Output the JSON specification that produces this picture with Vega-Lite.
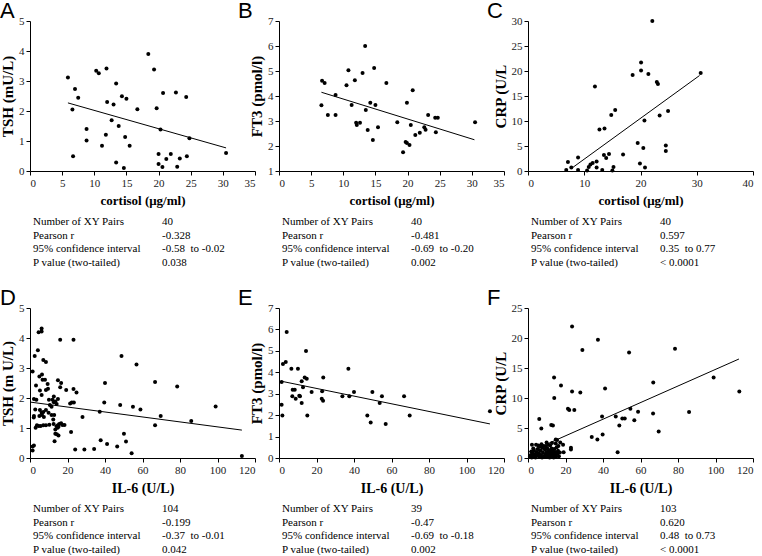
{
"$schema":"https://vega.github.io/schema/vega-lite/v6.json",
"padding":0,
"bounds":"flush",
"columns":3,
"spacing":{"row":48,"column":24},
"config":{
 "view":{"stroke":null},
 "axis":{"labelFont":"Liberation Serif","labelFontSize":11,"labelColor":"#222","titleFont":"Liberation Serif","titleFontWeight":"bold","titleColor":"#000","domainColor":"#000","tickColor":"#000","tickSize":4,"grid":false,"labelPadding":2},
 "axisX":{"titlePadding":6,"titleFontSize":13},
 "axisY":{"titlePadding":3,"titleFontSize":15},
 "title":{"font":"Liberation Sans","fontSize":22,"fontWeight":"normal","anchor":"start","frame":"group","dx":-41,"dy":12,"offset":0,"color":"#000"}
},
"datasets":{
"d":[
{"panel":"A","kind":"pt","x":5.9,"y":3.12},{"panel":"A","kind":"pt","x":7.0,"y":2.73},{"panel":"A","kind":"pt","x":7.5,"y":2.44},{"panel":"A","kind":"pt","x":6.6,"y":2.05},{"panel":"A","kind":"pt","x":6.7,"y":0.49},{"panel":"A","kind":"pt","x":8.8,"y":1.4},{"panel":"A","kind":"pt","x":8.8,"y":1.02},{"panel":"A","kind":"pt","x":10.3,"y":3.34},{"panel":"A","kind":"pt","x":10.7,"y":3.26},{"panel":"A","kind":"pt","x":11.9,"y":3.42},{"panel":"A","kind":"pt","x":12.0,"y":2.3},{"panel":"A","kind":"pt","x":11.2,"y":0.84},{"panel":"A","kind":"pt","x":11.8,"y":1.21},{"panel":"A","kind":"pt","x":12.7,"y":1.69},{"panel":"A","kind":"pt","x":13.0,"y":2.22},{"panel":"A","kind":"pt","x":13.4,"y":2.92},{"panel":"A","kind":"pt","x":13.4,"y":0.28},{"panel":"A","kind":"pt","x":13.8,"y":1.5},{"panel":"A","kind":"pt","x":14.3,"y":2.49},{"panel":"A","kind":"pt","x":15.0,"y":2.41},{"panel":"A","kind":"pt","x":14.8,"y":1.13},{"panel":"A","kind":"pt","x":14.6,"y":0.1},{"panel":"A","kind":"pt","x":15.5,"y":0.84},{"panel":"A","kind":"pt","x":16.7,"y":2.06},{"panel":"A","kind":"pt","x":18.4,"y":3.9},{"panel":"A","kind":"pt","x":19.3,"y":3.38},{"panel":"A","kind":"pt","x":19.7,"y":2.09},{"panel":"A","kind":"pt","x":20.3,"y":1.38},{"panel":"A","kind":"pt","x":20.7,"y":2.6},{"panel":"A","kind":"pt","x":20.0,"y":0.57},{"panel":"A","kind":"pt","x":20.0,"y":0.23},{"panel":"A","kind":"pt","x":20.6,"y":0.13},{"panel":"A","kind":"pt","x":21.2,"y":0.4},{"panel":"A","kind":"pt","x":21.9,"y":0.57},{"panel":"A","kind":"pt","x":22.7,"y":2.62},{"panel":"A","kind":"pt","x":22.9,"y":0.14},{"panel":"A","kind":"pt","x":23.3,"y":0.42},{"panel":"A","kind":"pt","x":24.3,"y":2.47},{"panel":"A","kind":"pt","x":24.4,"y":0.49},{"panel":"A","kind":"pt","x":24.8,"y":1.09},{"panel":"A","kind":"pt","x":30.5,"y":0.6},
{"panel":"A","kind":"fit","x":5.9,"y":2.27},{"panel":"A","kind":"fit","x":30.5,"y":0.77},
{"panel":"B","kind":"pt","x":6.6,"y":3.63},{"panel":"B","kind":"pt","x":6.7,"y":4.61},{"panel":"B","kind":"pt","x":7.1,"y":4.52},{"panel":"B","kind":"pt","x":7.6,"y":3.24},{"panel":"B","kind":"pt","x":8.8,"y":4.04},{"panel":"B","kind":"pt","x":8.8,"y":3.24},{"panel":"B","kind":"pt","x":10.5,"y":4.43},{"panel":"B","kind":"pt","x":10.8,"y":5.03},{"panel":"B","kind":"pt","x":11.3,"y":3.64},{"panel":"B","kind":"pt","x":11.8,"y":4.63},{"panel":"B","kind":"pt","x":12.0,"y":2.93},{"panel":"B","kind":"pt","x":12.1,"y":2.84},{"panel":"B","kind":"pt","x":12.6,"y":2.93},{"panel":"B","kind":"pt","x":13.0,"y":4.92},{"panel":"B","kind":"pt","x":13.4,"y":6.0},{"panel":"B","kind":"pt","x":13.5,"y":3.44},{"panel":"B","kind":"pt","x":13.8,"y":2.64},{"panel":"B","kind":"pt","x":14.2,"y":3.73},{"panel":"B","kind":"pt","x":14.6,"y":2.24},{"panel":"B","kind":"pt","x":14.8,"y":5.12},{"panel":"B","kind":"pt","x":15.0,"y":3.64},{"panel":"B","kind":"pt","x":15.4,"y":2.75},{"panel":"B","kind":"pt","x":16.7,"y":4.52},{"panel":"B","kind":"pt","x":18.4,"y":2.95},{"panel":"B","kind":"pt","x":19.3,"y":1.75},{"panel":"B","kind":"pt","x":19.7,"y":2.16},{"panel":"B","kind":"pt","x":19.9,"y":2.12},{"panel":"B","kind":"pt","x":19.9,"y":3.73},{"panel":"B","kind":"pt","x":20.3,"y":2.04},{"panel":"B","kind":"pt","x":20.8,"y":4.23},{"panel":"B","kind":"pt","x":20.5,"y":2.84},{"panel":"B","kind":"pt","x":21.2,"y":2.44},{"panel":"B","kind":"pt","x":21.9,"y":2.53},{"panel":"B","kind":"pt","x":22.6,"y":2.75},{"panel":"B","kind":"pt","x":22.8,"y":2.65},{"panel":"B","kind":"pt","x":23.2,"y":3.24},{"panel":"B","kind":"pt","x":24.3,"y":3.13},{"panel":"B","kind":"pt","x":24.7,"y":3.13},{"panel":"B","kind":"pt","x":24.4,"y":2.55},{"panel":"B","kind":"pt","x":30.5,"y":2.95},
{"panel":"B","kind":"fit","x":6.6,"y":4.15},{"panel":"B","kind":"fit","x":30.4,"y":2.25},
{"panel":"C","kind":"pt","x":6.8,"y":0.2},{"panel":"C","kind":"pt","x":7.1,"y":1.8},{"panel":"C","kind":"pt","x":7.7,"y":0.7},{"panel":"C","kind":"pt","x":8.9,"y":2.7},{"panel":"C","kind":"pt","x":8.9,"y":0.2},{"panel":"C","kind":"pt","x":10.5,"y":0.1},{"panel":"C","kind":"pt","x":10.8,"y":0.8},{"panel":"C","kind":"pt","x":11.1,"y":1.3},{"panel":"C","kind":"pt","x":11.5,"y":1.6},{"panel":"C","kind":"pt","x":11.9,"y":16.9},{"panel":"C","kind":"pt","x":12.2,"y":1.9},{"panel":"C","kind":"pt","x":12.2,"y":0.7},{"panel":"C","kind":"pt","x":12.7,"y":8.3},{"panel":"C","kind":"pt","x":13.2,"y":0.2},{"panel":"C","kind":"pt","x":13.6,"y":8.5},{"panel":"C","kind":"pt","x":13.5,"y":3.2},{"panel":"C","kind":"pt","x":13.9,"y":2.6},{"panel":"C","kind":"pt","x":14.4,"y":3.4},{"panel":"C","kind":"pt","x":14.8,"y":11.2},{"panel":"C","kind":"pt","x":15.0,"y":0.1},{"panel":"C","kind":"pt","x":15.2,"y":0.8},{"panel":"C","kind":"pt","x":15.5,"y":12.2},{"panel":"C","kind":"pt","x":16.9,"y":3.3},{"panel":"C","kind":"pt","x":18.6,"y":19.2},{"panel":"C","kind":"pt","x":19.5,"y":5.6},{"panel":"C","kind":"pt","x":19.9,"y":1.5},{"panel":"C","kind":"pt","x":20.1,"y":21.7},{"panel":"C","kind":"pt","x":20.1,"y":20.1},{"panel":"C","kind":"pt","x":20.5,"y":4.6},{"panel":"C","kind":"pt","x":20.7,"y":10.1},{"panel":"C","kind":"pt","x":20.8,"y":0.7},{"panel":"C","kind":"pt","x":21.4,"y":19.4},{"panel":"C","kind":"pt","x":22.1,"y":30.0},{"panel":"C","kind":"pt","x":22.9,"y":17.8},{"panel":"C","kind":"pt","x":23.1,"y":17.4},{"panel":"C","kind":"pt","x":23.4,"y":11.1},{"panel":"C","kind":"pt","x":24.5,"y":5.1},{"panel":"C","kind":"pt","x":24.5,"y":4.0},{"panel":"C","kind":"pt","x":24.9,"y":12.0},{"panel":"C","kind":"pt","x":30.7,"y":19.6},
{"panel":"C","kind":"fit","x":7.7,"y":0.5},{"panel":"C","kind":"fit","x":30.5,"y":19.1},
{"panel":"D","kind":"pt","x":1.4,"y":0.38},{"panel":"D","kind":"pt","x":1.4,"y":0.25},{"panel":"D","kind":"pt","x":4.6,"y":4.19},{"panel":"D","kind":"pt","x":6.2,"y":4.22},{"panel":"D","kind":"pt","x":6.2,"y":4.32},{"panel":"D","kind":"pt","x":4.2,"y":3.59},{"panel":"D","kind":"pt","x":2.5,"y":3.4},{"panel":"D","kind":"pt","x":1.4,"y":2.88},{"panel":"D","kind":"pt","x":7.1,"y":3.27},{"panel":"D","kind":"pt","x":8.5,"y":3.2},{"panel":"D","kind":"pt","x":5.0,"y":2.72},{"panel":"D","kind":"pt","x":6.4,"y":2.78},{"panel":"D","kind":"pt","x":6.7,"y":2.61},{"panel":"D","kind":"pt","x":8.0,"y":2.61},{"panel":"D","kind":"pt","x":9.4,"y":2.47},{"panel":"D","kind":"pt","x":3.2,"y":2.42},{"panel":"D","kind":"pt","x":5.3,"y":2.25},{"panel":"D","kind":"pt","x":8.5,"y":2.27},{"panel":"D","kind":"pt","x":9.6,"y":2.31},{"panel":"D","kind":"pt","x":6.2,"y":2.1},{"panel":"D","kind":"pt","x":2.1,"y":1.97},{"panel":"D","kind":"pt","x":3.4,"y":1.94},{"panel":"D","kind":"pt","x":10.1,"y":1.94},{"panel":"D","kind":"pt","x":12.0,"y":1.94},{"panel":"D","kind":"pt","x":12.7,"y":2.05},{"panel":"D","kind":"pt","x":10.6,"y":1.77},{"panel":"D","kind":"pt","x":11.5,"y":1.71},{"panel":"D","kind":"pt","x":12.7,"y":1.86},{"panel":"D","kind":"pt","x":13.5,"y":1.88},{"panel":"D","kind":"pt","x":14.2,"y":1.8},{"panel":"D","kind":"pt","x":2.8,"y":1.62},{"panel":"D","kind":"pt","x":5.3,"y":1.6},{"panel":"D","kind":"pt","x":6.2,"y":1.51},{"panel":"D","kind":"pt","x":7.1,"y":1.53},{"panel":"D","kind":"pt","x":8.5,"y":1.6},{"panel":"D","kind":"pt","x":9.9,"y":1.51},{"panel":"D","kind":"pt","x":2.1,"y":1.4},{"panel":"D","kind":"pt","x":5.0,"y":1.4},{"panel":"D","kind":"pt","x":6.4,"y":1.43},{"panel":"D","kind":"pt","x":7.4,"y":1.37},{"panel":"D","kind":"pt","x":11.5,"y":1.43},{"panel":"D","kind":"pt","x":12.4,"y":1.28},{"panel":"D","kind":"pt","x":12.9,"y":1.43},{"panel":"D","kind":"pt","x":3.0,"y":1.01},{"panel":"D","kind":"pt","x":3.7,"y":1.09},{"panel":"D","kind":"pt","x":4.6,"y":1.07},{"panel":"D","kind":"pt","x":5.7,"y":1.07},{"panel":"D","kind":"pt","x":7.1,"y":1.09},{"panel":"D","kind":"pt","x":8.5,"y":1.09},{"panel":"D","kind":"pt","x":10.3,"y":1.11},{"panel":"D","kind":"pt","x":12.6,"y":1.13},{"panel":"D","kind":"pt","x":13.5,"y":0.95},{"panel":"D","kind":"pt","x":14.2,"y":1.06},{"panel":"D","kind":"pt","x":14.7,"y":1.01},{"panel":"D","kind":"pt","x":15.2,"y":1.04},{"panel":"D","kind":"pt","x":14.9,"y":1.09},{"panel":"D","kind":"pt","x":15.6,"y":1.13},{"panel":"D","kind":"pt","x":13.5,"y":0.81},{"panel":"D","kind":"pt","x":14.3,"y":0.79},{"panel":"D","kind":"pt","x":15.2,"y":0.75},{"panel":"D","kind":"pt","x":13.1,"y":0.56},{"panel":"D","kind":"pt","x":2.1,"y":0.42},{"panel":"D","kind":"pt","x":14.9,"y":1.97},{"panel":"D","kind":"pt","x":14.9,"y":2.59},{"panel":"D","kind":"pt","x":16.6,"y":2.5},{"panel":"D","kind":"pt","x":16.1,"y":2.36},{"panel":"D","kind":"pt","x":16.1,"y":3.94},{"panel":"D","kind":"pt","x":18.4,"y":1.1},{"panel":"D","kind":"pt","x":19.3,"y":2.27},{"panel":"D","kind":"pt","x":16.6,"y":1.16},{"panel":"D","kind":"pt","x":17.3,"y":1.1},{"panel":"D","kind":"pt","x":21.4,"y":1.82},{"panel":"D","kind":"pt","x":22.3,"y":1.85},{"panel":"D","kind":"pt","x":23.4,"y":1.85},{"panel":"D","kind":"pt","x":23.2,"y":3.94},{"panel":"D","kind":"pt","x":23.2,"y":2.3},{"panel":"D","kind":"pt","x":24.8,"y":2.18},{"panel":"D","kind":"pt","x":21.9,"y":0.87},{"panel":"D","kind":"pt","x":24.1,"y":0.28},{"panel":"D","kind":"pt","x":28.0,"y":1.37},{"panel":"D","kind":"pt","x":29.0,"y":0.28},{"panel":"D","kind":"pt","x":34.2,"y":0.3},{"panel":"D","kind":"pt","x":37.2,"y":1.54},{"panel":"D","kind":"pt","x":37.7,"y":0.59},{"panel":"D","kind":"pt","x":39.6,"y":1.85},{"panel":"D","kind":"pt","x":40.0,"y":2.5},{"panel":"D","kind":"pt","x":41.1,"y":0.47},{"panel":"D","kind":"pt","x":46.5,"y":0.38},{"panel":"D","kind":"pt","x":48.1,"y":1.77},{"panel":"D","kind":"pt","x":48.8,"y":3.4},{"panel":"D","kind":"pt","x":50.1,"y":0.81},{"panel":"D","kind":"pt","x":51.2,"y":0.55},{"panel":"D","kind":"pt","x":54.2,"y":0.16},{"panel":"D","kind":"pt","x":54.9,"y":1.71},{"panel":"D","kind":"pt","x":56.8,"y":3.12},{"panel":"D","kind":"pt","x":58.9,"y":1.62},{"panel":"D","kind":"pt","x":66.7,"y":1.09},{"panel":"D","kind":"pt","x":66.7,"y":2.53},{"panel":"D","kind":"pt","x":69.7,"y":1.4},{"panel":"D","kind":"pt","x":78.5,"y":2.38},{"panel":"D","kind":"pt","x":86.0,"y":1.23},{"panel":"D","kind":"pt","x":99.0,"y":1.72},{"panel":"D","kind":"pt","x":113.0,"y":0.07},{"panel":"D","kind":"pt","x":2.0,"y":1.35},
{"panel":"D","kind":"fit","x":0.5,"y":1.86},{"panel":"D","kind":"fit","x":113,"y":0.93},
{"panel":"E","kind":"pt","x":4.1,"y":5.88},{"panel":"E","kind":"pt","x":2.1,"y":4.39},{"panel":"E","kind":"pt","x":3.6,"y":4.48},{"panel":"E","kind":"pt","x":1.4,"y":3.55},{"panel":"E","kind":"pt","x":1.4,"y":2.49},{"panel":"E","kind":"pt","x":1.8,"y":1.98},{"panel":"E","kind":"pt","x":6.6,"y":4.17},{"panel":"E","kind":"pt","x":10.1,"y":4.17},{"panel":"E","kind":"pt","x":14.4,"y":4.99},{"panel":"E","kind":"pt","x":13.7,"y":3.76},{"panel":"E","kind":"pt","x":14.8,"y":3.7},{"panel":"E","kind":"pt","x":12.1,"y":3.58},{"panel":"E","kind":"pt","x":23.6,"y":3.76},{"panel":"E","kind":"pt","x":7.3,"y":3.19},{"panel":"E","kind":"pt","x":8.4,"y":3.19},{"panel":"E","kind":"pt","x":12.8,"y":3.3},{"panel":"E","kind":"pt","x":17.4,"y":3.08},{"panel":"E","kind":"pt","x":23.0,"y":3.11},{"panel":"E","kind":"pt","x":7.1,"y":2.88},{"panel":"E","kind":"pt","x":8.9,"y":2.77},{"panel":"E","kind":"pt","x":11.2,"y":2.88},{"panel":"E","kind":"pt","x":12.1,"y":2.57},{"panel":"E","kind":"pt","x":22.8,"y":2.77},{"panel":"E","kind":"pt","x":23.5,"y":2.67},{"panel":"E","kind":"pt","x":15.1,"y":1.98},{"panel":"E","kind":"pt","x":33.8,"y":2.88},{"panel":"E","kind":"pt","x":37.0,"y":4.17},{"panel":"E","kind":"pt","x":37.5,"y":2.88},{"panel":"E","kind":"pt","x":40.0,"y":3.08},{"panel":"E","kind":"pt","x":47.1,"y":1.98},{"panel":"E","kind":"pt","x":48.9,"y":1.66},{"panel":"E","kind":"pt","x":49.8,"y":3.08},{"panel":"E","kind":"pt","x":53.7,"y":2.57},{"panel":"E","kind":"pt","x":54.9,"y":2.88},{"panel":"E","kind":"pt","x":56.9,"y":1.59},{"panel":"E","kind":"pt","x":66.7,"y":2.88},{"panel":"E","kind":"pt","x":69.7,"y":1.98},{"panel":"E","kind":"pt","x":112.5,"y":2.18},{"panel":"E","kind":"pt","x":10.8,"y":2.9},
{"panel":"E","kind":"fit","x":1.4,"y":3.58},{"panel":"E","kind":"fit","x":112.5,"y":1.59},
{"panel":"F","kind":"pt","x":23.5,"y":21.9},{"panel":"F","kind":"pt","x":37.3,"y":19.7},{"panel":"F","kind":"pt","x":29.0,"y":18.0},{"panel":"F","kind":"pt","x":53.9,"y":17.6},{"panel":"F","kind":"pt","x":78.4,"y":18.2},{"panel":"F","kind":"pt","x":13.9,"y":13.4},{"panel":"F","kind":"pt","x":17.6,"y":12.1},{"panel":"F","kind":"pt","x":23.5,"y":11.1},{"panel":"F","kind":"pt","x":27.9,"y":10.9},{"panel":"F","kind":"pt","x":14.0,"y":10.0},{"panel":"F","kind":"pt","x":41.1,"y":11.6},{"panel":"F","kind":"pt","x":66.8,"y":12.6},{"panel":"F","kind":"pt","x":99.0,"y":13.4},{"panel":"F","kind":"pt","x":112.7,"y":11.1},{"panel":"F","kind":"pt","x":85.9,"y":7.66},{"panel":"F","kind":"pt","x":21.3,"y":8.2},{"panel":"F","kind":"pt","x":22.0,"y":8.0},{"panel":"F","kind":"pt","x":24.7,"y":8.0},{"panel":"F","kind":"pt","x":46.8,"y":6.9},{"panel":"F","kind":"pt","x":39.5,"y":6.9},{"panel":"F","kind":"pt","x":54.6,"y":8.2},{"panel":"F","kind":"pt","x":50.3,"y":6.6},{"panel":"F","kind":"pt","x":51.6,"y":6.6},{"panel":"F","kind":"pt","x":58.7,"y":7.7},{"panel":"F","kind":"pt","x":56.7,"y":6.3},{"panel":"F","kind":"pt","x":66.7,"y":7.4},{"panel":"F","kind":"pt","x":48.7,"y":5.4},{"panel":"F","kind":"pt","x":69.7,"y":4.4},{"panel":"F","kind":"pt","x":39.8,"y":3.9},{"panel":"F","kind":"pt","x":34.0,"y":3.5},{"panel":"F","kind":"pt","x":37.0,"y":3.1},{"panel":"F","kind":"pt","x":47.8,"y":0.95},{"panel":"F","kind":"pt","x":6.0,"y":6.5},{"panel":"F","kind":"pt","x":7.1,"y":4.9},{"panel":"F","kind":"pt","x":12.4,"y":5.5},{"panel":"F","kind":"pt","x":13.3,"y":5.4},{"panel":"F","kind":"pt","x":14.8,"y":3.1},{"panel":"F","kind":"pt","x":15.5,"y":3.0},{"panel":"F","kind":"pt","x":17.2,"y":2.6},{"panel":"F","kind":"pt","x":18.7,"y":2.2},{"panel":"F","kind":"pt","x":22.9,"y":1.7},{"panel":"F","kind":"pt","x":22.9,"y":1.4},{"panel":"F","kind":"pt","x":19.0,"y":0.95},{"panel":"F","kind":"pt","x":2.1,"y":2.2},
{"panel":"F","kind":"pt","x":1.0,"y":0.2},{"panel":"F","kind":"pt","x":1.5,"y":0.5},{"panel":"F","kind":"pt","x":2.0,"y":0.1},{"panel":"F","kind":"pt","x":2.5,"y":0.8},{"panel":"F","kind":"pt","x":3.0,"y":0.3},{"panel":"F","kind":"pt","x":3.2,"y":1.2},{"panel":"F","kind":"pt","x":3.8,"y":0.6},{"panel":"F","kind":"pt","x":4.0,"y":0.1},{"panel":"F","kind":"pt","x":4.5,"y":1.0},{"panel":"F","kind":"pt","x":5.0,"y":0.4},{"panel":"F","kind":"pt","x":5.2,"y":1.5},{"panel":"F","kind":"pt","x":5.8,"y":0.8},{"panel":"F","kind":"pt","x":6.0,"y":0.2},{"panel":"F","kind":"pt","x":6.5,"y":1.9},{"panel":"F","kind":"pt","x":6.8,"y":1.2},{"panel":"F","kind":"pt","x":7.0,"y":0.5},{"panel":"F","kind":"pt","x":7.5,"y":0.1},{"panel":"F","kind":"pt","x":7.8,"y":1.7},{"panel":"F","kind":"pt","x":8.0,"y":0.9},{"panel":"F","kind":"pt","x":8.3,"y":2.0},{"panel":"F","kind":"pt","x":8.6,"y":0.3},{"panel":"F","kind":"pt","x":9.0,"y":1.4},{"panel":"F","kind":"pt","x":9.2,"y":0.6},{"panel":"F","kind":"pt","x":9.5,"y":1.9},{"panel":"F","kind":"pt","x":9.8,"y":0.2},{"panel":"F","kind":"pt","x":10.0,"y":1.0},{"panel":"F","kind":"pt","x":10.3,"y":1.6},{"panel":"F","kind":"pt","x":10.6,"y":0.4},{"panel":"F","kind":"pt","x":11.0,"y":0.8},{"panel":"F","kind":"pt","x":11.2,"y":1.3},{"panel":"F","kind":"pt","x":11.5,"y":0.1},{"panel":"F","kind":"pt","x":11.8,"y":2.1},{"panel":"F","kind":"pt","x":12.0,"y":0.6},{"panel":"F","kind":"pt","x":12.3,"y":1.0},{"panel":"F","kind":"pt","x":12.6,"y":1.6},{"panel":"F","kind":"pt","x":12.9,"y":0.3},{"panel":"F","kind":"pt","x":13.2,"y":1.2},{"panel":"F","kind":"pt","x":13.4,"y":0.8},{"panel":"F","kind":"pt","x":13.7,"y":0.1},{"panel":"F","kind":"pt","x":14.0,"y":1.5},{"panel":"F","kind":"pt","x":14.3,"y":0.5},{"panel":"F","kind":"pt","x":14.6,"y":1.0},{"panel":"F","kind":"pt","x":15.0,"y":0.2},{"panel":"F","kind":"pt","x":15.3,"y":1.8},{"panel":"F","kind":"pt","x":15.7,"y":0.7},{"panel":"F","kind":"pt","x":16.0,"y":1.2},{"panel":"F","kind":"pt","x":16.5,"y":0.3},{"panel":"F","kind":"pt","x":17.0,"y":0.9},{"panel":"F","kind":"pt","x":4.3,"y":2.2},{"panel":"F","kind":"pt","x":2.8,"y":1.6},{"panel":"F","kind":"pt","x":5.5,"y":2.1},{"panel":"F","kind":"pt","x":7.2,"y":2.3},{"panel":"F","kind":"pt","x":9.9,"y":2.6},{"panel":"F","kind":"pt","x":10.8,"y":2.2},{"panel":"F","kind":"pt","x":12.8,"y":2.5},{"panel":"F","kind":"pt","x":14.8,"y":2.4},{"panel":"F","kind":"pt","x":16.2,"y":2.0},{"panel":"F","kind":"pt","x":1.8,"y":1.1},{"panel":"F","kind":"pt","x":6.3,"y":1.3},
{"panel":"F","kind":"fit","x":0.5,"y":1.0},{"panel":"F","kind":"fit","x":112.5,"y":16.5}
],
"stats":[
{"panel":"A","row":1,"label":"Number of XY Pairs","value":"40"},{"panel":"A","row":2,"label":"Pearson r","value":"-0.328"},{"panel":"A","row":3,"label":"95% confidence interval","value":"-0.58\u00a0 to -0.02"},{"panel":"A","row":4,"label":"P value (two-tailed)","value":"0.038"},
{"panel":"B","row":1,"label":"Number of XY Pairs","value":"40"},{"panel":"B","row":2,"label":"Pearson r","value":"-0.481"},{"panel":"B","row":3,"label":"95% confidence interval","value":"-0.69\u00a0 to -0.20"},{"panel":"B","row":4,"label":"P value (two-tailed)","value":"0.002"},
{"panel":"C","row":1,"label":"Number of XY Pairs","value":"40"},{"panel":"C","row":2,"label":"Pearson r","value":"0.597"},{"panel":"C","row":3,"label":"95% confidence interval","value":"0.35\u00a0 to 0.77"},{"panel":"C","row":4,"label":"P value (two-tailed)","value":"< 0.0001"},
{"panel":"D","row":1,"label":"Number of XY Pairs","value":"104"},{"panel":"D","row":2,"label":"Pearson r","value":"-0.199"},{"panel":"D","row":3,"label":"95% confidence interval","value":"-0.37\u00a0 to -0.01"},{"panel":"D","row":4,"label":"P value (two-tailed)","value":"0.042"},
{"panel":"E","row":1,"label":"Number of XY Pairs","value":"39"},{"panel":"E","row":2,"label":"Pearson r","value":"-0.47"},{"panel":"E","row":3,"label":"95% confidence interval","value":"-0.69\u00a0 to -0.18"},{"panel":"E","row":4,"label":"P value (two-tailed)","value":"0.002"},
{"panel":"F","row":1,"label":"Number of XY Pairs","value":"103"},{"panel":"F","row":2,"label":"Pearson r","value":"0.620"},{"panel":"F","row":3,"label":"95% confidence interval","value":"0.48\u00a0 to 0.73"},{"panel":"F","row":4,"label":"P value (two-tailed)","value":"< 0.0001"}
]
},
"concat":[
 {"title":{"text":"A","dx":-30},"width":225,"height":150,"data":{"name":"d"},"transform":[{"filter":"datum.panel==='A'"}],
  "encoding":{"x":{"field":"x","type":"quantitative","scale":{"domain":[0,35],"nice":false},"axis":{"values":[0,5,10,15,20,25,30,35],"title":"cortisol (μg/ml)"}},
              "y":{"field":"y","type":"quantitative","scale":{"domain":[0,5],"nice":false},"axis":{"values":[0,1,2,3,4,5],"title":"TSH (mU/L)"}}},
  "layer":[{"transform":[{"filter":"datum.kind==='pt'"}],"mark":{"type":"circle","size":16,"color":"#000","opacity":1}},
           {"transform":[{"filter":"datum.kind==='fit'"}],"mark":{"type":"line","color":"#000","strokeWidth":1}}]},
 {"title":"B","width":225,"height":150,"data":{"name":"d"},"transform":[{"filter":"datum.panel==='B'"}],
  "encoding":{"x":{"field":"x","type":"quantitative","scale":{"domain":[0,35],"nice":false},"axis":{"values":[0,5,10,15,20,25,30,35],"title":"cortisol (μg/ml)"}},
              "y":{"field":"y","type":"quantitative","scale":{"domain":[1,7],"nice":false,"zero":false},"axis":{"values":[1,2,3,4,5,6,7],"title":"FT3 (pmol/l)"}}},
  "layer":[{"transform":[{"filter":"datum.kind==='pt'"}],"mark":{"type":"circle","size":16,"color":"#000","opacity":1}},
           {"transform":[{"filter":"datum.kind==='fit'"}],"mark":{"type":"line","color":"#000","strokeWidth":1}}]},
 {"title":"C","width":225,"height":150,"data":{"name":"d"},"transform":[{"filter":"datum.panel==='C'"}],
  "encoding":{"x":{"field":"x","type":"quantitative","scale":{"domain":[0,40],"nice":false},"axis":{"values":[0,10,20,30,40],"title":"cortisol (μg/ml)"}},
              "y":{"field":"y","type":"quantitative","scale":{"domain":[0,30],"nice":false},"axis":{"values":[0,5,10,15,20,25,30],"title":"CRP (U/L"}}},
  "layer":[{"transform":[{"filter":"datum.kind==='pt'"}],"mark":{"type":"circle","size":16,"color":"#000","opacity":1}},
           {"transform":[{"filter":"datum.kind==='fit'"}],"mark":{"type":"line","color":"#000","strokeWidth":1}}]},
 {"width":225,"height":41,"data":{"name":"stats"},"transform":[{"filter":"datum.panel==='A'"},{"fold":["label","value"],"as":["col","txt"]}],"mark":{"type":"text","align":"left","baseline":"middle","font":"Liberation Serif","fontSize":11,"color":"#000","dy":3},
  "encoding":{"x":{"field":"col","type":"nominal","scale":{"type":"point","domain":["label","value"],"range":[3,132],"padding":0},"axis":null},"y":{"field":"row","type":"ordinal","scale":{"type":"point","padding":0},"axis":null},"text":{"field":"txt"}}},
 {"width":225,"height":41,"data":{"name":"stats"},"transform":[{"filter":"datum.panel==='B'"},{"fold":["label","value"],"as":["col","txt"]}],"mark":{"type":"text","align":"left","baseline":"middle","font":"Liberation Serif","fontSize":11,"color":"#000","dy":3},
  "encoding":{"x":{"field":"col","type":"nominal","scale":{"type":"point","domain":["label","value"],"range":[3,132],"padding":0},"axis":null},"y":{"field":"row","type":"ordinal","scale":{"type":"point","padding":0},"axis":null},"text":{"field":"txt"}}},
 {"width":225,"height":41,"data":{"name":"stats"},"transform":[{"filter":"datum.panel==='C'"},{"fold":["label","value"],"as":["col","txt"]}],"mark":{"type":"text","align":"left","baseline":"middle","font":"Liberation Serif","fontSize":11,"color":"#000","dy":3},
  "encoding":{"x":{"field":"col","type":"nominal","scale":{"type":"point","domain":["label","value"],"range":[3,132],"padding":0},"axis":null},"y":{"field":"row","type":"ordinal","scale":{"type":"point","padding":0},"axis":null},"text":{"field":"txt"}}},
 {"title":{"text":"D","dx":-30},"width":225,"height":150,"data":{"name":"d"},"transform":[{"filter":"datum.panel==='D'"}],
  "encoding":{"x":{"field":"x","type":"quantitative","scale":{"domain":[0,120],"nice":false},"axis":{"values":[0,20,40,60,80,100,120],"title":"IL-6 (U/L)","titleFontSize":14}},
              "y":{"field":"y","type":"quantitative","scale":{"domain":[0,5],"nice":false},"axis":{"values":[0,1,2,3,4,5],"title":"TSH (m U/L)"}}},
  "layer":[{"transform":[{"filter":"datum.kind==='pt'"}],"mark":{"type":"circle","size":16,"color":"#000","opacity":1}},
           {"transform":[{"filter":"datum.kind==='fit'"}],"mark":{"type":"line","color":"#000","strokeWidth":1}}]},
 {"title":"E","width":225,"height":150,"data":{"name":"d"},"transform":[{"filter":"datum.panel==='E'"}],
  "encoding":{"x":{"field":"x","type":"quantitative","scale":{"domain":[0,120],"nice":false},"axis":{"values":[0,20,40,60,80,100,120],"title":"IL-6 (U/L)","titleFontSize":14}},
              "y":{"field":"y","type":"quantitative","scale":{"domain":[0,7],"nice":false},"axis":{"values":[0,1,2,3,4,5,6,7],"title":"FT3 (pmol/l)"}}},
  "layer":[{"transform":[{"filter":"datum.kind==='pt'"}],"mark":{"type":"circle","size":16,"color":"#000","opacity":1}},
           {"transform":[{"filter":"datum.kind==='fit'"}],"mark":{"type":"line","color":"#000","strokeWidth":1}}]},
 {"title":"F","width":225,"height":150,"data":{"name":"d"},"transform":[{"filter":"datum.panel==='F'"}],
  "encoding":{"x":{"field":"x","type":"quantitative","scale":{"domain":[0,120],"nice":false},"axis":{"values":[0,20,40,60,80,100,120],"title":"IL-6 (U/L)","titleFontSize":14}},
              "y":{"field":"y","type":"quantitative","scale":{"domain":[0,25],"nice":false},"axis":{"values":[0,5,10,15,20,25],"title":"CRP (U/L"}}},
  "layer":[{"transform":[{"filter":"datum.kind==='pt'"}],"mark":{"type":"circle","size":16,"color":"#000","opacity":1}},
           {"transform":[{"filter":"datum.kind==='fit'"}],"mark":{"type":"line","color":"#000","strokeWidth":1}}]},
 {"width":225,"height":41,"data":{"name":"stats"},"transform":[{"filter":"datum.panel==='D'"},{"fold":["label","value"],"as":["col","txt"]}],"mark":{"type":"text","align":"left","baseline":"middle","font":"Liberation Serif","fontSize":11,"color":"#000","dy":3},
  "encoding":{"x":{"field":"col","type":"nominal","scale":{"type":"point","domain":["label","value"],"range":[3,132],"padding":0},"axis":null},"y":{"field":"row","type":"ordinal","scale":{"type":"point","padding":0},"axis":null},"text":{"field":"txt"}}},
 {"width":225,"height":41,"data":{"name":"stats"},"transform":[{"filter":"datum.panel==='E'"},{"fold":["label","value"],"as":["col","txt"]}],"mark":{"type":"text","align":"left","baseline":"middle","font":"Liberation Serif","fontSize":11,"color":"#000","dy":3},
  "encoding":{"x":{"field":"col","type":"nominal","scale":{"type":"point","domain":["label","value"],"range":[3,132],"padding":0},"axis":null},"y":{"field":"row","type":"ordinal","scale":{"type":"point","padding":0},"axis":null},"text":{"field":"txt"}}},
 {"width":225,"height":41,"data":{"name":"stats"},"transform":[{"filter":"datum.panel==='F'"},{"fold":["label","value"],"as":["col","txt"]}],"mark":{"type":"text","align":"left","baseline":"middle","font":"Liberation Serif","fontSize":11,"color":"#000","dy":3},
  "encoding":{"x":{"field":"col","type":"nominal","scale":{"type":"point","domain":["label","value"],"range":[3,132],"padding":0},"axis":null},"y":{"field":"row","type":"ordinal","scale":{"type":"point","padding":0},"axis":null},"text":{"field":"txt"}}}
]
}
